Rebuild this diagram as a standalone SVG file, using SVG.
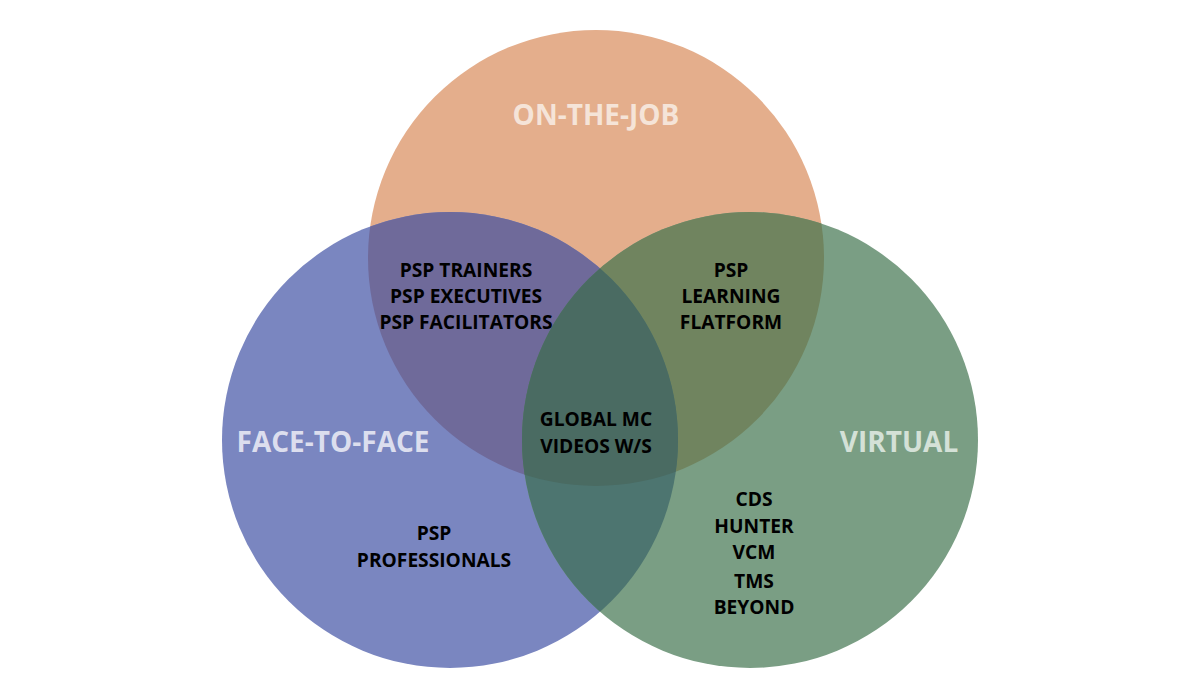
<svg xmlns="http://www.w3.org/2000/svg" width="1200" height="700" viewBox="0 0 1200 700">
<style>
.t{font-family:"Open Sans","Liberation Sans",sans-serif;font-weight:700;text-anchor:middle}
.in{font-size:19.2px;fill:#000}
.ti{font-size:28px}
</style>
<defs>
<clipPath id="cO"><circle cx="596" cy="258" r="228"/></clipPath>
<clipPath id="cB"><circle cx="450" cy="440" r="228"/></clipPath>
<clipPath id="cG"><circle cx="750" cy="440" r="228"/></clipPath>
</defs>
<rect width="1200" height="700" fill="#fff"/>
<g id="on-the-job">
<circle cx="596" cy="258" r="228" fill="#E4AE8C"/>
</g>
<g id="face-to-face">
<circle cx="450" cy="440" r="228" fill="#7A86C0"/>
</g>
<g id="virtual">
<circle cx="750" cy="440" r="228" fill="#7A9E84"/>
</g>
<g id="overlaps">
<circle cx="450" cy="440" r="228" fill="#6F6A9A" clip-path="url(#cO)"/>
<circle cx="750" cy="440" r="228" fill="#70845F" clip-path="url(#cO)"/>
<circle cx="750" cy="440" r="228" fill="#4D7570" clip-path="url(#cB)"/>
<g clip-path="url(#cO)"><circle cx="750" cy="440" r="228" fill="#4A6B62" clip-path="url(#cB)"/></g>
</g>
<g id="labels">
<text class="t ti" x="596" y="125" fill="#F5E4D8">ON-THE-JOB</text>
<text class="t ti" x="333" y="452" fill="#DCDEEE">FACE-TO-FACE</text>
<text class="t ti" x="899" y="452" fill="#D4E1D7">VIRTUAL</text>
<text class="t in" x="466" y="277">PSP TRAINERS</text>
<text class="t in" x="466" y="303">PSP EXECUTIVES</text>
<text class="t in" x="466" y="329">PSP FACILITATORS</text>
<text class="t in" x="731" y="277">PSP</text>
<text class="t in" x="731" y="303">LEARNING</text>
<text class="t in" x="731" y="329">FLATFORM</text>
<text class="t in" x="596" y="426">GLOBAL MC</text>
<text class="t in" x="596" y="453">VIDEOS W/S</text>
<text class="t in" x="434" y="540">PSP</text>
<text class="t in" x="434" y="567">PROFESSIONALS</text>
<text class="t in" x="754" y="506">CDS</text>
<text class="t in" x="754" y="533">HUNTER</text>
<text class="t in" x="754" y="559">VCM</text>
<text class="t in" x="754" y="588">TMS</text>
<text class="t in" x="754" y="614">BEYOND</text>
</g>
</svg>
